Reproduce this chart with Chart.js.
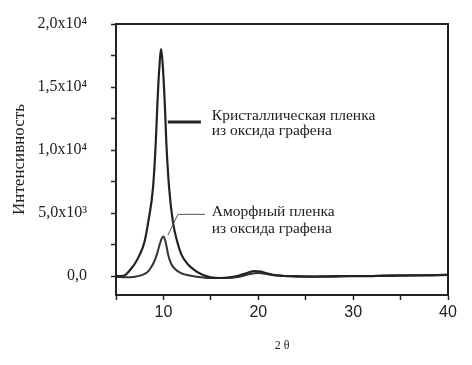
<!DOCTYPE html>
<html>
<head>
<meta charset="utf-8">
<script src="https://cdn.jsdelivr.net/npm/chart.js@4/dist/chart.umd.min.js"></script>
<style>
  html, body { margin: 0; padding: 0; background: #fff; }
  #wrap { width: 472px; height: 365px; }
</style>
</head>
<body>
<div id="wrap"><canvas id="xrd"></canvas></div>
<script>
// crystalline graphene oxide film
const crystX = [5, 5.5, 6, 6.5, 7, 7.5, 8, 8.4, 8.9, 9.2, 9.35, 9.53, 9.77, 9.98, 10.16, 10.3, 10.6, 11.0, 11.5, 11.9, 12.5, 13.1, 14, 15, 16, 17, 18, 18.8, 19.6, 20.3, 21, 22, 23, 25, 28, 31, 34, 37, 40];
const crystY = [0, 0, 100, 500, 1000, 1700, 2700, 4300, 7000, 10700, 13400, 16100, 18000, 16100, 13400, 10700, 7000, 4300, 2600, 1700, 1000, 580, 150, -100, -150, -100, 50, 250, 400, 350, 200, 50, 0, -50, 0, 0, 50, 50, 100];
// amorphous graphene oxide film
const amorphX = [5, 6, 7, 7.8, 8.3, 8.6, 9.0, 9.3, 9.6, 9.8, 10.0, 10.2, 10.5, 10.8, 11.2, 11.8, 12.4, 13.5, 15, 16.5, 18, 19, 20, 21, 22, 24, 27, 30, 33, 36, 40];
const amorphY = [-50, -100, -50, 100, 300, 580, 1100, 1700, 2500, 2950, 3150, 2800, 1700, 1000, 580, 250, 100, -50, -150, -150, -50, 150, 250, 150, 50, 0, -50, 0, 0, 50, 100];

const xTickMarks = [5, 10, 15, 20, 25, 30, 35, 40];
const xTickValues = [10, 20, 30, 40];
const yTickMarks = [0, 2500, 5000, 7500, 10000, 12500, 15000, 17500, 20000];
const yTickValues = [0, 5000, 10000, 15000, 20000];
const yTickLabels = ['0,0', '5,0x10³', '1,0x10⁴', '1,5x10⁴', '2,0x10⁴'];

const crystLabel = ['Кристаллическая пленка', 'из оксида графена'];
const amorphLabel = ['Аморфный пленка', 'из оксида графена'];

// callout pointers in data units: [x, y] pairs
const crystPointer = [[10.47, 12220], [13.95, 12220]];
const amorphPointer = [[10.47, 3240], [11.53, 4900], [14.37, 4900]];
const crystTextAt = [15.1, 12380, 11180];
const amorphTextAt = [15.1, 4750, 3420];

const toPoints = (xs, ys) => xs.map((x, i) => ({ x: x, y: ys[i] }));

const ink = '#222';
const serif = '"Liberation Serif", "Times New Roman", serif';

const frameAndNotes = {
  id: 'frameAndNotes',
  afterDatasetsDraw(chart) {
    const { ctx, chartArea: a, scales: { x, y } } = chart;
    ctx.save();
    ctx.strokeStyle = ink;
    ctx.lineWidth = 2;
    ctx.strokeRect(a.left, a.top, a.right - a.left, a.bottom - a.top);

    function pointer(pts, w, col) {
      ctx.beginPath();
      pts.forEach((p, i) => {
        const px = x.getPixelForValue(p[0]), py = y.getPixelForValue(p[1]);
        if (i === 0) ctx.moveTo(px, py); else ctx.lineTo(px, py);
      });
      ctx.lineWidth = w;
      ctx.strokeStyle = col;
      ctx.stroke();
    }
    pointer(crystPointer, 3, ink);
    pointer(amorphPointer, 1, '#555');

    ctx.fillStyle = ink;
    ctx.font = '15.5px ' + serif;
    ctx.textAlign = 'left';
    ctx.textBaseline = 'alphabetic';
    function note(lines, at) {
      const px = x.getPixelForValue(at[0]);
      lines.forEach((t, i) => ctx.fillText(t, px, y.getPixelForValue(at[i + 1])));
    }
    note(crystLabel, crystTextAt);
    note(amorphLabel, amorphTextAt);
    ctx.restore();
  }
};

new Chart(document.getElementById('xrd').getContext('2d'), {
  type: 'line',
  data: {
    datasets: [
      {
        label: 'Кристаллическая пленка из оксида графена',
        data: toPoints(crystX, crystY),
        borderColor: ink,
        borderWidth: 2.2,
        pointRadius: 0,
        cubicInterpolationMode: 'monotone',
        fill: false
      },
      {
        label: 'Аморфный пленка из оксида графена',
        data: toPoints(amorphX, amorphY),
        borderColor: '#333',
        borderWidth: 2,
        pointRadius: 0,
        cubicInterpolationMode: 'monotone',
        fill: false
      }
    ]
  },
  options: {
    responsive: true,
    maintainAspectRatio: false,
    animation: false,
    layout: { padding: { top: 24, right: 24, left: 0, bottom: 0 } },
    plugins: { legend: { display: false }, tooltip: { enabled: false } },
    scales: {
      x: {
        type: 'linear',
        min: 5,
        max: 40,
        afterFit: s => { s.height = 70; s.paddingLeft = 0; s.paddingRight = 0; },
        afterBuildTicks: s => { s.ticks = xTickMarks.map(v => ({ value: v })); },
        border: { display: true, color: ink, width: 2 },
        grid: { drawOnChartArea: false, drawTicks: true, tickLength: 5, color: ink, tickWidth: 1.5 },
        ticks: {
          autoSkip: false,
          maxRotation: 0,
          padding: 3,
          color: ink,
          font: { family: '"Liberation Sans", Arial, sans-serif', size: 16 },
          callback: v => xTickValues.includes(v) ? String(v) : ''
        },
        title: {
          display: true,
          text: '2 θ',
          color: ink,
          font: { family: serif, size: 12 },
          padding: { top: 0, bottom: 12 }
        }
      },
      y: {
        type: 'linear',
        min: -1500,
        max: 20000,
        afterFit: s => { s.width = 116; s.paddingTop = 0; s.paddingBottom = 0; },
        afterBuildTicks: s => { s.ticks = yTickMarks.map(v => ({ value: v })); },
        border: { display: true, color: ink, width: 2 },
        grid: { drawOnChartArea: false, drawTicks: true, tickLength: 5, color: ink, tickWidth: 1.5 },
        ticks: {
          autoSkip: false,
          padding: 24,
          color: ink,
          font: { family: serif, size: 16 },
          callback: v => {
            const i = yTickValues.indexOf(v);
            return i >= 0 ? yTickLabels[i] : '';
          }
        },
        title: {
          display: true,
          text: 'Интенсивность',
          color: ink,
          font: { family: serif, size: 17 },
          padding: { top: 9, bottom: 0 }
        }
      }
    }
  },
  plugins: [frameAndNotes]
});
</script>
</body>
</html>
